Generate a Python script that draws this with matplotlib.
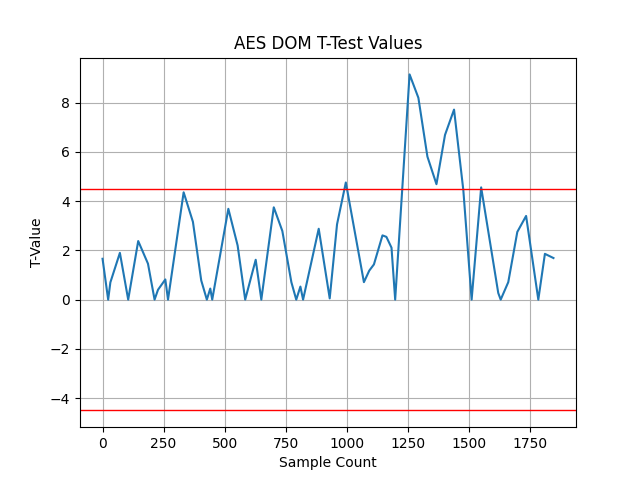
import matplotlib
matplotlib.use("Agg")
import matplotlib.pyplot as plt

sample_count = [0, 23, 32, 71, 105, 146, 186, 213, 227, 257, 268, 332, 370, 404, 427,
                441, 449, 515, 553, 584, 627, 650, 701, 736, 773, 793, 810, 821, 885,
                930, 960, 996, 1070, 1092, 1111, 1146, 1162, 1183, 1198, 1257, 1293,
                1330, 1367, 1402, 1439, 1477, 1511, 1550, 1620, 1630, 1661, 1698,
                1734, 1784, 1811, 1846]
t_values = [1.66, 0.0, 0.7, 1.9, 0.0, 2.38, 1.46, 0.0, 0.4, 0.82, 0.0, 4.36, 3.16,
            0.78, 0.0, 0.45, 0.0, 3.69, 2.2, 0.0, 1.62, 0.0, 3.75, 2.79, 0.71, 0.0,
            0.53, 0.0, 2.88, 0.05, 3.06, 4.76, 0.71, 1.18, 1.43, 2.61, 2.55, 2.11,
            0.0, 9.15, 8.2, 5.81, 4.69, 6.69, 7.72, 4.45, 0.0, 4.56, 0.27, 0.0, 0.71,
            2.75, 3.4, 0.0, 1.86, 1.69]
threshold = 4.5

fig, ax = plt.subplots(figsize=(6.4, 4.8), dpi=100)
ax.plot(sample_count, t_values)
ax.axhline(threshold, color="red", linewidth=1)
ax.axhline(-threshold, color="red", linewidth=1)
ax.set_title("AES DOM T-Test Values")
ax.set_xlabel("Sample Count")
ax.set_ylabel("T-Value")
ax.grid(True)
fig.savefig("out.png")
